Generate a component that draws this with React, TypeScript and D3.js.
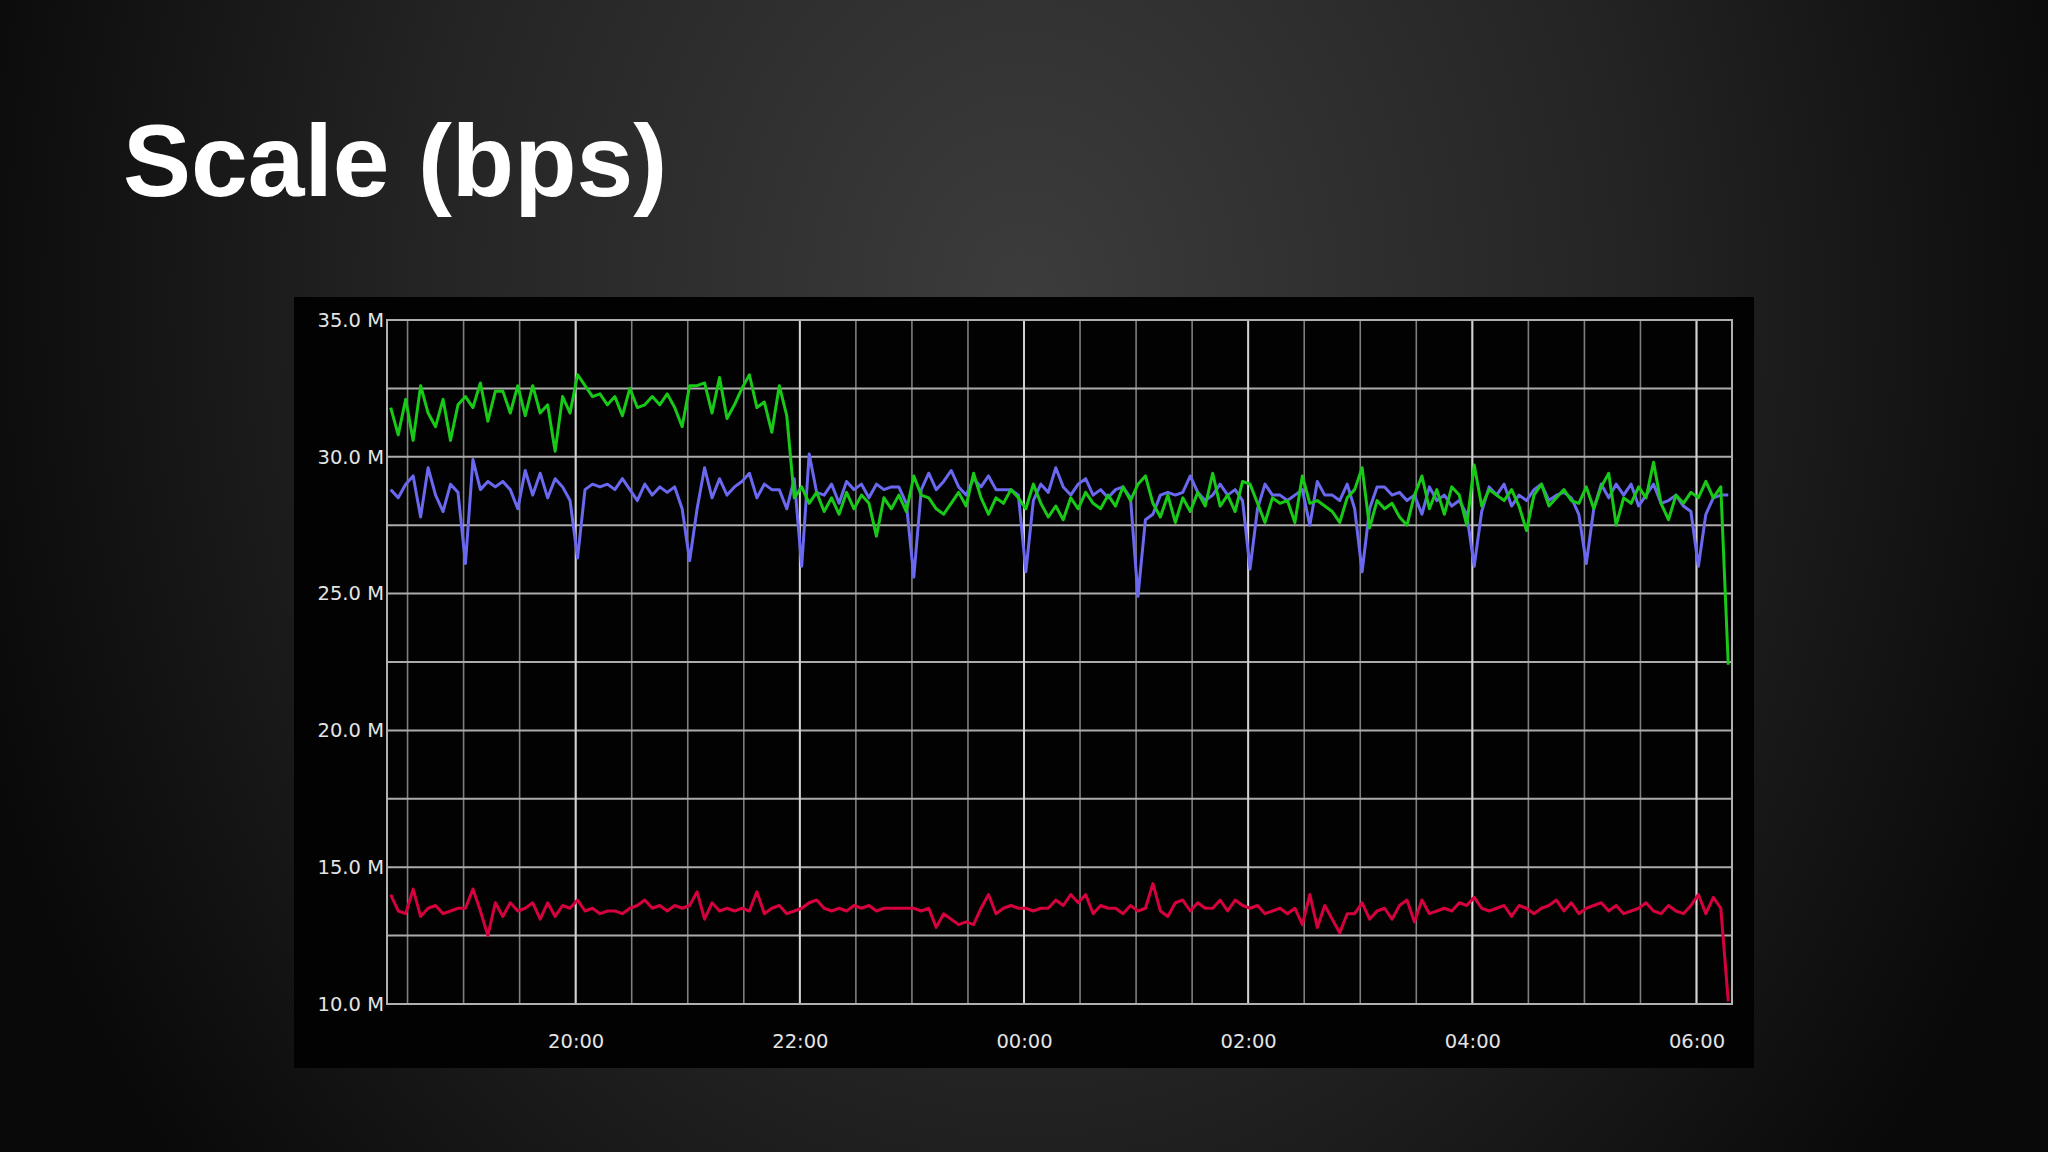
import * as d3 from 'd3';
import React, { useEffect, useRef } from 'react';

// samples every 4 minutes, first one at 18:21
const startTime = new Date(2013, 2, 11, 18, 21);
const stepMinutes = 4;
const domainStart = new Date(2013, 2, 11, 18, 19);
const domainEnd = new Date(2013, 2, 12, 6, 19);

const yLabelTicks = [10, 15, 20, 25, 30, 35];
const yMinorTicks = [12.5, 17.5, 22.5, 27.5, 32.5];

// values in Mbps, one row per hour
const greenSeries = [
  31.8, 30.8, 32.1, 30.6, 32.6, 31.6, 31.1, 32.1, 30.6, 31.9,
  32.2, 31.8, 32.7, 31.3, 32.4, 32.4, 31.6, 32.6, 31.5, 32.6, 31.6, 31.9, 30.2, 32.2, 31.6,
  33.0, 32.6, 32.2, 32.3, 31.9, 32.2, 31.5, 32.5, 31.8, 31.9, 32.2, 31.9, 32.3, 31.8, 31.1,
  32.6, 32.6, 32.7, 31.6, 32.9, 31.4, 31.9, 32.5, 33.0, 31.8, 32.0, 30.9, 32.6, 31.5, 28.5,
  28.9, 28.3, 28.7, 28.0, 28.5, 27.9, 28.7, 28.1, 28.6, 28.3, 27.1, 28.5, 28.1, 28.6, 28.0,
  29.3, 28.6, 28.5, 28.1, 27.9, 28.3, 28.7, 28.2, 29.4, 28.5, 27.9, 28.5, 28.3, 28.8, 28.5,
  28.1, 29.0, 28.3, 27.8, 28.2, 27.7, 28.5, 28.1, 28.7, 28.3, 28.1, 28.6, 28.2, 28.9, 28.4,
  29.0, 29.3, 28.3, 27.8, 28.6, 27.6, 28.5, 28.0, 28.7, 28.2, 29.4, 28.2, 28.6, 28.0, 29.1,
  29.0, 28.3, 27.6, 28.5, 28.3, 28.4, 27.6, 29.3, 28.3, 28.4, 28.2, 28.0, 27.6, 28.5, 28.8,
  29.6, 27.4, 28.4, 28.1, 28.3, 27.8, 27.5, 28.6, 29.3, 28.1, 28.8, 27.9, 28.9, 28.6, 27.5,
  29.7, 28.2, 28.8, 28.6, 28.4, 28.8, 28.2, 27.3, 28.6, 29.0, 28.2, 28.5, 28.8, 28.4, 28.3,
  28.9, 28.1, 28.9, 29.4, 27.5, 28.5, 28.3, 28.9, 28.5, 29.8, 28.3, 27.7, 28.6, 28.3, 28.7,
  28.5, 29.1, 28.5, 28.9, 22.4,
];

const blueSeries = [
  28.8, 28.5, 29.0, 29.3, 27.8, 29.6, 28.6, 28.0, 29.0, 28.7,
  26.1, 29.9, 28.8, 29.1, 28.9, 29.1, 28.8, 28.1, 29.5, 28.6, 29.4, 28.5, 29.2, 28.9, 28.4,
  26.3, 28.8, 29.0, 28.9, 29.0, 28.8, 29.2, 28.8, 28.4, 29.0, 28.6, 28.9, 28.7, 28.9, 28.1,
  26.2, 28.1, 29.6, 28.5, 29.2, 28.6, 28.9, 29.1, 29.4, 28.5, 29.0, 28.8, 28.8, 28.1, 29.2,
  26.0, 30.1, 28.7, 28.6, 29.0, 28.3, 29.1, 28.8, 29.0, 28.5, 29.0, 28.8, 28.9, 28.9, 28.3,
  25.6, 28.8, 29.4, 28.8, 29.1, 29.5, 28.9, 28.6, 29.2, 28.9, 29.3, 28.8, 28.8, 28.8, 28.6,
  25.8, 28.4, 29.0, 28.7, 29.6, 28.9, 28.6, 29.0, 29.2, 28.6, 28.8, 28.5, 28.8, 28.9, 28.5,
  24.9, 27.7, 27.9, 28.6, 28.7, 28.6, 28.7, 29.3, 28.7, 28.4, 28.6, 29.0, 28.6, 28.8, 28.4,
  25.9, 28.1, 29.0, 28.6, 28.6, 28.4, 28.6, 28.8, 27.5, 29.1, 28.6, 28.6, 28.4, 29.0, 28.1,
  25.8, 28.1, 28.9, 28.9, 28.6, 28.7, 28.4, 28.6, 27.9, 28.9, 28.4, 28.6, 28.2, 28.4, 27.9,
  26.0, 28.0, 28.9, 28.6, 29.0, 28.2, 28.6, 28.4, 28.8, 29.0, 28.4, 28.6, 28.7, 28.5, 27.9,
  26.1, 28.1, 29.0, 28.5, 29.0, 28.6, 29.0, 28.2, 28.6, 29.0, 28.3, 28.4, 28.6, 28.2, 28.0,
  26.0, 27.9, 28.5, 28.6, 28.6,
];

const redSeries = [
  14.0, 13.4, 13.3, 14.2, 13.2, 13.5, 13.6, 13.3, 13.4, 13.5,
  13.5, 14.2, 13.4, 12.5, 13.7, 13.2, 13.7, 13.4, 13.5, 13.7, 13.1, 13.7, 13.2, 13.6, 13.5,
  13.8, 13.4, 13.5, 13.3, 13.4, 13.4, 13.3, 13.5, 13.6, 13.8, 13.5, 13.6, 13.4, 13.6, 13.5,
  13.6, 14.1, 13.1, 13.7, 13.4, 13.5, 13.4, 13.5, 13.4, 14.1, 13.3, 13.5, 13.6, 13.3, 13.4,
  13.5, 13.7, 13.8, 13.5, 13.4, 13.5, 13.4, 13.6, 13.5, 13.6, 13.4, 13.5, 13.5, 13.5, 13.5,
  13.5, 13.4, 13.5, 12.8, 13.3, 13.1, 12.9, 13.0, 12.9, 13.5, 14.0, 13.3, 13.5, 13.6, 13.5,
  13.5, 13.4, 13.5, 13.5, 13.8, 13.6, 14.0, 13.7, 14.0, 13.3, 13.6, 13.5, 13.5, 13.3, 13.6,
  13.4, 13.5, 14.4, 13.4, 13.2, 13.7, 13.8, 13.4, 13.7, 13.5, 13.5, 13.8, 13.4, 13.8, 13.6,
  13.5, 13.6, 13.3, 13.4, 13.5, 13.3, 13.5, 12.9, 14.0, 12.8, 13.6, 13.1, 12.6, 13.3, 13.3,
  13.7, 13.1, 13.4, 13.5, 13.1, 13.6, 13.8, 13.0, 13.8, 13.3, 13.4, 13.5, 13.4, 13.7, 13.6,
  13.9, 13.5, 13.4, 13.5, 13.6, 13.2, 13.6, 13.5, 13.3, 13.5, 13.6, 13.8, 13.4, 13.7, 13.3,
  13.5, 13.6, 13.7, 13.4, 13.6, 13.3, 13.4, 13.5, 13.7, 13.4, 13.3, 13.6, 13.4, 13.3, 13.6,
  14.0, 13.3, 13.9, 13.5, 10.1,
];

const seriesList = [
  { name: 'out', values: redSeries, color: '#d5003d' },
  { name: 'in', values: blueSeries, color: '#6a68ee' },
  { name: 'total', values: greenSeries, color: '#18c918' },
];

const App: React.FC = () => {
  const svgRef = useRef<SVGSVGElement | null>(null);

  useEffect(() => {
    const svg = d3.select(svgRef.current);
    const width = 2048;
    const height = 1152;
    const plot = { left: 387, right: 1732, top: 320, bottom: 1004 };

    svg.selectAll('*').remove();
    svg.attr('width', width).attr('height', height).attr('viewBox', `0 0 ${width} ${height}`);

    const defs = svg.append('defs');
    const grad = defs
      .append('radialGradient')
      .attr('id', 'bg')
      .attr('gradientUnits', 'userSpaceOnUse')
      .attr('cx', 1024)
      .attr('cy', 300)
      .attr('r', 1100)
      .attr('gradientTransform', 'translate(1024 300) scale(1 1.25) translate(-1024 -300)');
    grad.append('stop').attr('offset', 0).attr('stop-color', '#3c3c3c');
    grad.append('stop').attr('offset', 0.55).attr('stop-color', '#242424');
    grad.append('stop').attr('offset', 1).attr('stop-color', '#090909');

    svg.append('rect').attr('width', width).attr('height', height).attr('fill', 'url(#bg)');

    svg
      .append('text')
      .attr('x', 123)
      .attr('y', 196)
      .attr('fill', '#ffffff')
      .style('font-family', '"Liberation Sans", Arial, sans-serif')
      .style('font-weight', 700)
      .style('font-size', '102px')
      .text('Scale (bps)');

    // black chart panel
    svg.append('rect').attr('x', 294).attr('y', 297).attr('width', 1460).attr('height', 771).attr('fill', '#020202');

    const x = d3.scaleTime().domain([domainStart, domainEnd]).range([plot.left, plot.right]);
    const y = d3.scaleLinear().domain([10, 35]).range([plot.bottom, plot.top]);

    const grid = svg.append('g');
    grid
      .selectAll('line.minor-x')
      .data(x.ticks(d3.timeMinute.every(30)!))
      .join('line')
      .attr('x1', (d) => x(d))
      .attr('x2', (d) => x(d))
      .attr('y1', plot.top)
      .attr('y2', plot.bottom)
      .attr('stroke', '#7e7e7e')
      .attr('stroke-width', 1.6);
    grid
      .selectAll('line.y')
      .data([...yMinorTicks, ...yLabelTicks])
      .join('line')
      .attr('x1', plot.left)
      .attr('x2', plot.right)
      .attr('y1', (d) => y(d))
      .attr('y2', (d) => y(d))
      .attr('stroke', '#ababab')
      .attr('stroke-width', 2);
    grid
      .selectAll('line.major-x')
      .data(x.ticks(d3.timeHour.every(2)!))
      .join('line')
      .attr('x1', (d) => x(d))
      .attr('x2', (d) => x(d))
      .attr('y1', plot.top)
      .attr('y2', plot.bottom)
      .attr('stroke', '#d2d2d2')
      .attr('stroke-width', 2);

    svg
      .append('rect')
      .attr('x', plot.left)
      .attr('y', plot.top)
      .attr('width', plot.right - plot.left)
      .attr('height', plot.bottom - plot.top)
      .attr('fill', 'none')
      .attr('stroke', '#b0b0b0')
      .attr('stroke-width', 2);

    const yAxis = svg
      .append('g')
      .attr('transform', `translate(${plot.left - 2},0)`)
      .call(
        d3
          .axisLeft(y)
          .tickValues(yLabelTicks)
          .tickSize(0)
          .tickPadding(1)
          .tickFormat((d) => `${(d as number).toFixed(1)} M`),
      );
    yAxis.select('.domain').remove();

    const xAxis = svg
      .append('g')
      .attr('transform', `translate(0,${plot.bottom})`)
      .call(
        d3
          .axisBottom(x)
          .ticks(d3.timeHour.every(2))
          .tickSize(0)
          .tickPadding(30)
          .tickFormat((d) => d3.timeFormat('%H:%M')(d as Date)),
      );
    xAxis.select('.domain').remove();

    svg
      .selectAll('.tick text')
      .attr('fill', '#e4e4e4')
      .style('font-family', '"DejaVu Sans", sans-serif')
      .style('font-size', '19.5px');

    const times = greenSeries.map((_, i) => d3.timeMinute.offset(startTime, i * stepMinutes));

    const line = d3
      .line<number>()
      .x((_, i) => x(times[i]))
      .y((d) => y(d));

    svg
      .append('g')
      .selectAll('path')
      .data(seriesList)
      .join('path')
      .attr('fill', 'none')
      .attr('stroke', (d) => d.color)
      .attr('stroke-width', 3)
      .attr('stroke-linejoin', 'round')
      .attr('d', (d) => line(d.values));
  }, []);

  return (
    <div style={{ position: 'absolute', left: 0, top: 0 }}>
      <svg ref={svgRef} style={{ display: 'block' }}></svg>
    </div>
  );
};

export default App;
